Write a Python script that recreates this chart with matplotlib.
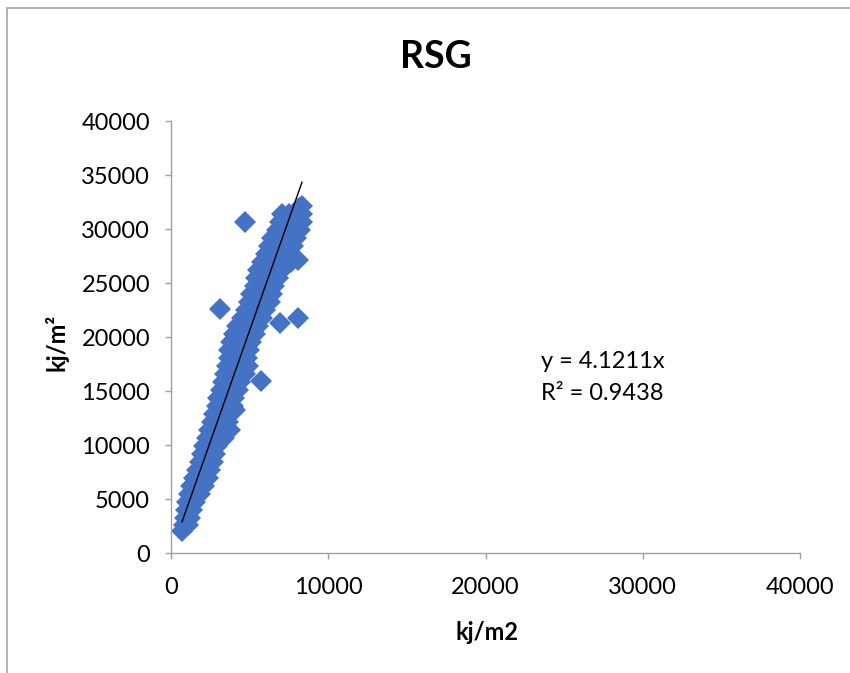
import matplotlib
matplotlib.use("Agg")
import matplotlib.pyplot as plt
from matplotlib.patches import Rectangle

# ---- data ----
title = "RSG"
x_label = "kj/m2"
y_label = "kj/m²"
slope = 4.1211
r_squared = 0.9438
x_ticks = [0, 10000, 20000, 30000, 40000]
y_ticks = [0, 5000, 10000, 15000, 20000, 25000, 30000, 35000, 40000]

rsg_x = [
    700,
    830, 1080,
    890, 1200,
    950, 1330,
    1020, 1400, 1520,
    1150, 1500, 1840,
    1270, 1650, 2100,
    1460, 1850, 2350,
    1650, 2050, 2480,
    1840, 2250, 2670,
    1970, 2400, 2800,
    2100, 2550, 2920,
    2290, 2750, 3100, 3370,
    2420, 2900, 3250, 3500, 3750,
    2600, 3000, 3400, 3620,
    2730, 3150, 3550, 3750,
    4070,
    2920, 3350, 3700, 3940,
    2990, 3400, 3800, 4000,
    3180, 3600, 4000, 4260,
    3300, 3750, 4100, 4390, 5720,
    3430, 3850, 4250, 4700,
    3560, 4000, 4500, 4900,
    3700, 4100, 4600, 4840,
    3700, 4150, 4550, 4960,
    3820, 4300, 4700, 5090,
    4000, 4450, 4900, 5340,
    4200, 4650, 5100, 5530, 6930,
    4520, 4950, 5350, 5790, 8080,
    3116, 4770, 5200, 5600, 5980,
    4960, 5400, 5850, 6300,
    5090, 5550, 6000, 6420,
    5340, 5800, 6200, 6550,
    5400, 5900, 6350, 6800,
    5530, 6000, 6500, 7050,
    5790, 6250, 6750, 7180, 7600, 8080,
    6040, 6500, 6950, 7300, 7570,
    6230, 6650, 7100, 7500, 7760,
    6420, 6850, 7300, 7700, 7950,
    6740, 7150, 7550, 7900, 8200,
    4706, 6930, 7350, 7750, 8100, 8330,
    7060, 7500, 7900, 8300,
    8150, 8330,
]
rsg_y = [
    2000,
    2593, 2593,
    3241, 3241,
    3981, 3981,
    4722, 4722, 4722,
    5463, 5463, 5463,
    6204, 6204, 6204,
    6944, 6944, 6944,
    7685, 7685, 7685,
    8426, 8426, 8426,
    9166, 9166, 9166,
    9907, 9907, 9907,
    10648, 10648, 10648, 10648,
    11389, 11389, 11389, 11389, 11389,
    12129, 12129, 12129, 12129,
    12870, 12870, 12870, 12870,
    13240,
    13611, 13611, 13611, 13611,
    14351, 14351, 14351, 14351,
    15092, 15092, 15092, 15092,
    15833, 15833, 15833, 15833, 15930,
    16574, 16574, 16574, 16574,
    17314, 17314, 17314, 17314,
    18055, 18055, 18055, 18055,
    18796, 18796, 18796, 18796,
    19536, 19536, 19536, 19536,
    20277, 20277, 20277, 20277,
    21018, 21018, 21018, 21018, 21300,
    21759, 21759, 21759, 21759, 21760,
    22590, 22499, 22499, 22499, 22499,
    23240, 23240, 23240, 23240,
    23981, 23981, 23981, 23981,
    24721, 24721, 24721, 24721,
    25462, 25462, 25462, 25462,
    26203, 26203, 26203, 26203,
    26943, 26943, 26943, 26943, 26943, 27130,
    27684, 27684, 27684, 27684, 27684,
    28425, 28425, 28425, 28425, 28425,
    29166, 29166, 29166, 29166, 29166,
    29906, 29906, 29906, 29906, 29906,
    30650, 30647, 30647, 30647, 30647, 30647,
    31388, 31388, 31388, 31388,
    31900, 32129,
]

plt.rcParams['font.family'] = ['Lato', 'DejaVu Sans']

W, H = 850, 673
fig = plt.figure(figsize=(W / 100, H / 100), dpi=100)

# chart frame (Excel chart area border)
fig.patches.append(Rectangle((7 / W, -0.05), 1.2, 1 - 8 / H + 0.05,
                             transform=fig.transFigure, fill=False,
                             edgecolor='#a6a6a6', linewidth=1.2))

ax = fig.add_axes([171 / W, 1 - 553 / H, 629 / W, 432 / H])

ax.plot(rsg_x, rsg_y, linestyle='none', marker='D', markersize=11.5,
        color='#4472C4', markeredgewidth=0, zorder=2)

xmin, xmax = min(rsg_x), max(rsg_x)
ax.plot([xmin, xmax], [slope * xmin, slope * xmax], color='black',
        linewidth=1.0, zorder=3)

ax.set_xlim(0, 40000)
ax.set_ylim(0, 40000)
ax.set_xticks(x_ticks)
ax.set_yticks(y_ticks)
ax.set_xticklabels([str(v) for v in x_ticks])
ax.set_yticklabels([str(v) for v in y_ticks])

for s in ['top', 'right']:
    ax.spines[s].set_visible(False)
for s in ['left', 'bottom']:
    ax.spines[s].set_color('#a0a0a0')
    ax.spines[s].set_linewidth(1.0)

ax.tick_params(axis='both', direction='out', length=4, width=1,
               color='#a0a0a0', labelsize=17, labelcolor='black')
ax.tick_params(axis='x', pad=13)
ax.tick_params(axis='y', pad=11)

fig.text(436 / W, 1 - 57 / H, title, ha='center', va='center',
         fontsize=27, fontweight='bold')
fig.text(487 / W, 1 - 632 / H, x_label, ha='center', va='center',
         fontsize=17, fontweight='bold')
fig.text(57 / W, 1 - 342 / H, y_label, ha='center', va='center',
         fontsize=17, fontweight='bold', rotation=90)

fig.text(541 / W, 1 - 361 / H, f"y = {slope}x", ha='left', va='center',
         fontsize=17)
fig.text(541 / W, 1 - 393 / H, f"R² = {r_squared}", ha='left', va='center',
         fontsize=17)

fig.savefig('out.png', dpi=100)
